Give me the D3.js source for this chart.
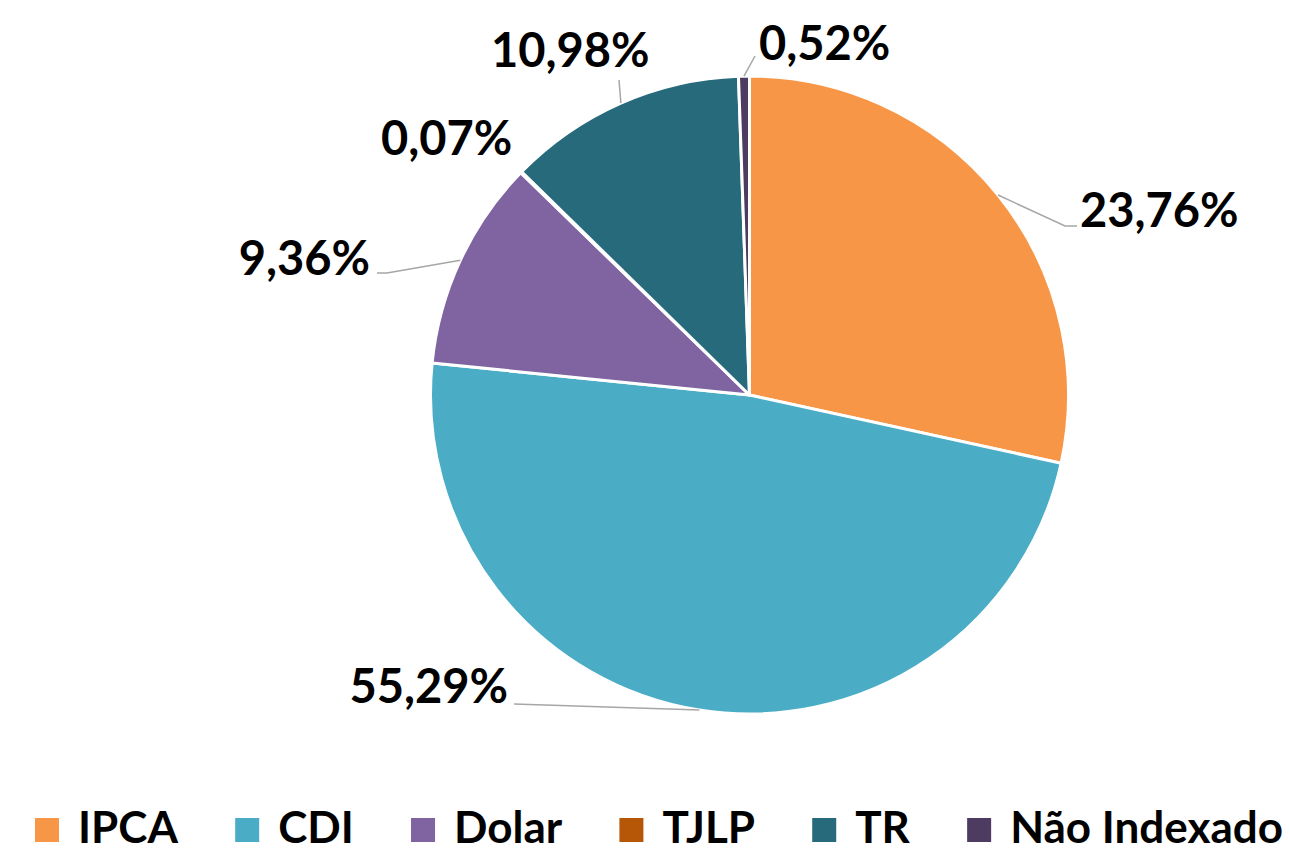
<!DOCTYPE html>
<html>
<head>
<meta charset="utf-8">
<script src="https://cdn.jsdelivr.net/npm/d3@7"></script>
<style>
  html, body { margin: 0; padding: 0; background: #fff; }
  svg { display: block; }
  text { font-family: Lato, "Open Sans", sans-serif; font-weight: 700; fill: #000; }
</style>
</head>
<body>
<svg id="chart" width="1290" height="853"></svg>
<script>
// ---- data ----
const categories = ["IPCA", "CDI", "Dolar", "TJLP", "TR", "Não Indexado"];
// slice sizes as drawn in the picture (angular share, %)
const sliceValues = [28.43, 48.17, 10.67, 0.07, 12.11, 0.55];
// label texts as printed on the chart
const labelTexts = ["23,76%", "55,29%", "9,36%", "0,07%", "10,98%", "0,52%"];
const colors = ["#F79646", "#4BACC6", "#8064A2", "#B65708", "#276A7C", "#4D3B62"];

// ---- layout (label placement, not data) ----
const labelLayout = [
  { x: 1080, y: 227, anchor: "start", leader: [[1065, 226], [1077, 226]] },
  { x: 508,  y: 703, anchor: "end",   leader: [[514, 704]] },
  { x: 370,  y: 275, anchor: "end",   leader: [[387, 273], [377, 273]] },
  { x: 381,  y: 155, anchor: "start", leader: null },
  { x: 491,  y: 67,  anchor: "start", leader: [[619, 80]] },
  { x: 759,  y: 60,  anchor: "start", leader: [[755, 56]] }
];

const svg = d3.select("#chart");
const cx = 749.5, cy = 395, R = 319;

const pie = d3.pie().sort(null).value(d => d.v);
const arcs = pie(categories.map((c, i) => ({ c, v: sliceValues[i], i })));
const arc = d3.arc().innerRadius(0).outerRadius(R);

const g = svg.append("g").attr("transform", `translate(${cx},${cy})`);
g.selectAll("path.slice")
  .data(arcs)
  .join("path")
  .attr("class", "slice")
  .attr("d", arc)
  .attr("fill", d => colors[d.data.i])
  .attr("stroke", "#fff")
  .attr("stroke-width", 3)
  .attr("stroke-linejoin", "round");

// leader lines
arcs.forEach((d, i) => {
  const L = labelLayout[i];
  if (!L.leader) return;
  const mid = (d.startAngle + d.endAngle) / 2;
  const p0 = [cx + R * Math.sin(mid), cy - R * Math.cos(mid)];
  const pts = [p0].concat(L.leader);
  svg.append("path")
    .attr("d", d3.line()(pts))
    .attr("fill", "none")
    .attr("stroke", "#A6A6A6")
    .attr("stroke-width", 1.5);
});

// labels
svg.selectAll("text.lbl")
  .data(arcs)
  .join("text")
  .attr("class", "lbl")
  .attr("x", (d, i) => labelLayout[i].x)
  .attr("y", (d, i) => labelLayout[i].y)
  .attr("text-anchor", (d, i) => labelLayout[i].anchor)
  .style("font-size", "47px")
  .text(d => labelTexts[d.data.i]);

// legend
const legend = svg.append("g");
const sq = 24, gapSqText = 19, legLeft = 35, legRight = 1283, baseY = 843;
const items = categories.map((c, i) => {
  const it = legend.append("g");
  it.append("rect").attr("x", 0).attr("y", baseY - 25).attr("width", sq).attr("height", sq).attr("fill", colors[i]);
  const t = it.append("text").attr("x", sq + gapSqText).attr("y", baseY).style("font-size", "44px").text(c);
  return { it, w: sq + gapSqText + t.node().getComputedTextLength() };
});
const sumW = d3.sum(items, d => d.w);
const gapItems = (legRight - legLeft - sumW) / (items.length - 1);
let x = legLeft;
items.forEach(d => { d.it.attr("transform", `translate(${x},0)`); x += d.w + gapItems; });
</script>
</body>
</html>
